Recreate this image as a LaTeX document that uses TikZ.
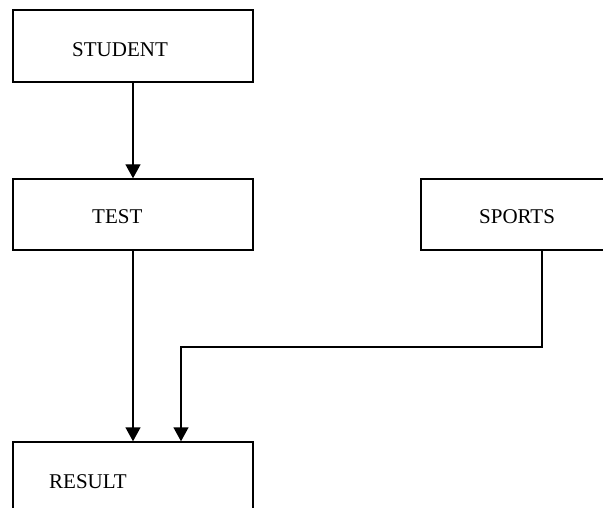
\documentclass[tikz,border=0pt]{standalone}
\usepackage{fontspec}
\setmainfont{Liberation Serif}
\usetikzlibrary{arrows.meta}
\begin{document}
\begin{tikzpicture}[x=1pt, y=-1pt,
  box/.style={draw=black, line width=1.4pt, rectangle, inner sep=0pt},
  lbl/.style={inner sep=0pt, anchor=base west, font=\fontsize{21}{25}\selectfont},
  arr/.style={draw=black, line width=1.4pt, -{Triangle[length=14pt,width=15pt]}}]
  \useasboundingbox (0,0) rectangle (603,508);
  \clip (0,0) rectangle (603,508);
  % boxes (the right and lower ones run past the page edge)
  \node[box, minimum width=240pt, minimum height=72pt] (student) at (133,46) {};
  \node[box, minimum width=240pt, minimum height=71pt] (test) at (133,214.5) {};
  \node[box, minimum width=242pt, minimum height=71pt] (sports) at (542,214.5) {};
  \node[box, minimum width=240pt, minimum height=120pt] (result) at (133,502) {};
  % labels
  \node[lbl] (tstudent) at (72,57) {STUDENT};
  \node[lbl] (ttest) at (92,224) {TEST};
  \node[lbl] (tsports) at (479,223) {SPORTS};
  \node[lbl] (tresult) at (49,488) {RESULT};
  % connectors
  \coordinate (corner) at (181,347);
  \draw[arr] (student.south) -- (test.north);
  \draw[arr] (test.south) -- (result.north);
  \draw[arr] (sports.south) |- (corner) -- (corner |- result.north);
\end{tikzpicture}
\end{document}
